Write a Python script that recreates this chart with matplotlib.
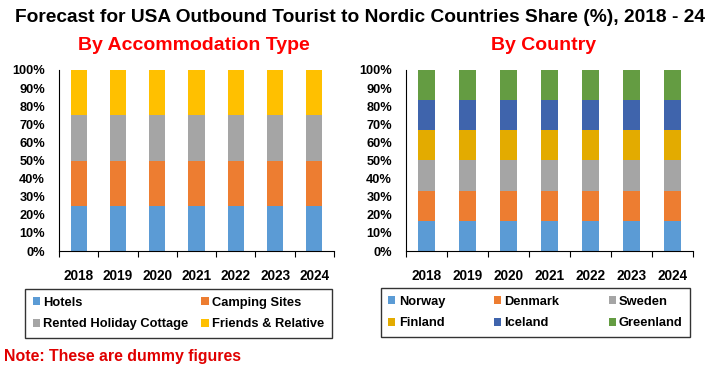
import matplotlib.pyplot as plt
import numpy as np
from matplotlib.patches import Patch

plt.rcParams['font.family'] = ['Liberation Sans', 'DejaVu Sans']
plt.rcParams['font.weight'] = 'bold'

years = ['2018', '2019', '2020', '2021', '2022', '2023', '2024']

# Left panel: accommodation type shares (%)
accom_labels = ['Hotels', 'Camping Sites', 'Rented Holiday Cottage', 'Friends & Relative']
hotels = [25, 25, 25, 25, 25, 25, 25]
camping = [25, 25, 25, 25, 25, 25, 25]
cottage = [25, 25, 25, 25, 25, 25, 25]
friends = [25, 25, 25, 25, 25, 25, 25]
accom_colors = ['#5B9BD5', '#ED7D31', '#A5A5A5', '#FFC000']

# Right panel: country shares (%)
country_labels = ['Norway', 'Denmark', 'Sweden', 'Finland', 'Iceland', 'Greenland']
norway = [16.67] * 7
denmark = [16.67] * 7
sweden = [16.67] * 7
finland = [16.67] * 7
iceland = [16.67] * 7
greenland = [16.65] * 7
country_colors = ['#5B9BD5', '#ED7D31', '#A5A5A5', '#E3AB00', '#3F64AC', '#649C42']

W, H = 720, 379
fig = plt.figure(figsize=(W / 100, H / 100), dpi=100)


def px_axes(x0, y0, x1, y1):
    return fig.add_axes([x0 / W, 1 - y1 / H, (x1 - x0) / W, (y1 - y0) / H])


def stacked(ax, series, colors):
    x = np.arange(len(years))
    bottom = np.zeros(len(years))
    for vals, c in zip(series, colors):
        ax.bar(x, vals, width=0.41, bottom=bottom, color=c, zorder=2)
        bottom += np.array(vals)
    ax.set_xlim(-0.5, len(years) - 0.5)
    ax.set_ylim(0, 100)
    ax.set_yticks(range(0, 101, 10))
    ax.set_yticklabels([f'{v}%' for v in range(0, 101, 10)], fontsize=9.2)
    ax.set_xticks(x)
    ax.set_xticklabels(years, fontsize=9.8)
    ax.set_xticks(np.arange(-0.5, len(years)), minor=True)
    ax.tick_params(axis='x', which='major', length=0, pad=13)
    ax.tick_params(axis='x', which='minor', length=4, direction='out', width=0.8)
    ax.tick_params(axis='y', length=0, pad=10)
    for s in ['top', 'right']:
        ax.spines[s].set_visible(False)
    ax.spines['left'].set_linewidth(0.8)
    ax.spines['bottom'].set_linewidth(0.8)


ax1 = px_axes(59, 70, 334, 251)
stacked(ax1, [hotels, camping, cottage, friends], accom_colors)

ax2 = px_axes(406, 70, 693, 251)
stacked(ax2, [norway, denmark, sweden, finland, iceland, greenland], country_colors)

fig.text(360 / W, 1 - 17 / H, 'Forecast for USA Outbound Tourist to Nordic Countries Share (%), 2018 - 24',
         ha='center', va='center', fontsize=13.8, fontweight='bold')
fig.text(194 / W, 1 - 45 / H, 'By Accommodation Type', ha='center', va='center',
         fontsize=14, fontweight='bold', color='#FF0000')
fig.text(544 / W, 1 - 45 / H, 'By Country', ha='center', va='center',
         fontsize=14, fontweight='bold', color='#FF0000')
fig.text(4 / W, 1 - 357 / H, 'Note: These are dummy figures', ha='left', va='center',
         fontsize=11.4, fontweight='bold', color='#E00000')


def col_major(items, ncol):
    nrow = int(np.ceil(len(items) / ncol))
    return [items[r * ncol + c] for c in range(ncol) for r in range(nrow) if r * ncol + c < len(items)]


h1 = [Patch(facecolor=c, label=l) for c, l in zip(accom_colors, accom_labels)]
leg1 = fig.legend(handles=col_major(h1, 2), ncol=2, loc='center',
                  bbox_to_anchor=((23 + 334) / 2 / W, 1 - 313.5 / H),
                  fontsize=9.3, frameon=True, fancybox=False, edgecolor='black',
                  handlelength=0.55, handleheight=0.55, handletextpad=0.25, columnspacing=1.0,
                  borderpad=0.6, labelspacing=0.75)
leg1.get_frame().set_linewidth(1)

h2 = [Patch(facecolor=c, label=l) for c, l in zip(country_colors, country_labels)]
leg2 = fig.legend(handles=col_major(h2, 3), ncol=3, loc='center',
                  bbox_to_anchor=((383 + 688) / 2 / W, 1 - 312.5 / H),
                  fontsize=9.3, frameon=True, fancybox=False, edgecolor='black',
                  handlelength=0.55, handleheight=0.55, handletextpad=0.25, columnspacing=3.8,
                  borderpad=0.6, labelspacing=0.75)
leg2.get_frame().set_linewidth(1)

fig.savefig('out.png', dpi=100)
